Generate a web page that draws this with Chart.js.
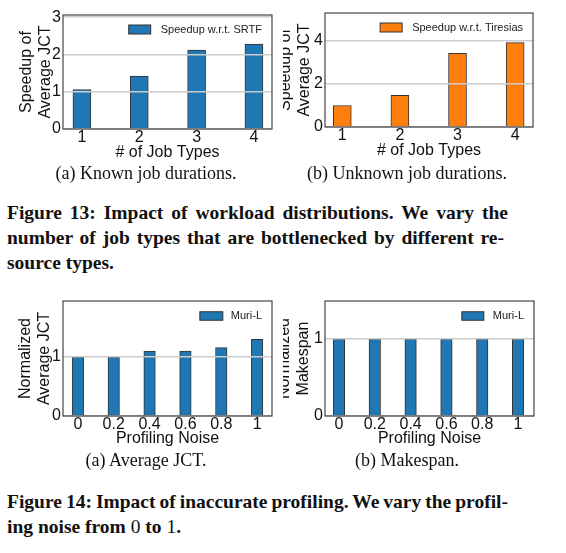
<!DOCTYPE html>
<html>
<head>
<meta charset="utf-8">
<script src="https://cdn.jsdelivr.net/npm/chart.js@4.4.1/dist/chart.umd.min.js"></script>
<style>
  html, body { margin: 0; padding: 0; background: #fff; }
  #page { position: relative; width: 566px; height: 553px; overflow: hidden; }
  canvas { position: absolute; }
  .sub { position: absolute; width: 240px; text-align: center; font: 18px/20px "Liberation Serif", serif; color: #111; white-space: nowrap; }
  .cap { position: absolute; left: 7px; font: bold 19.5px/25px "Liberation Serif", serif; color: #111; }
  .cap div { white-space: nowrap; }
  .cap .j { text-align: justify; text-align-last: justify; white-space: normal; word-spacing: -2.5px; }
  .m { font-weight: normal; }
</style>
</head>
<body>
<div id="page">
  <canvas id="c-srtf" width="283" height="165" style="left:0;top:0"></canvas>
  <canvas id="c-tiresias" width="283" height="163" style="left:283px;top:0"></canvas>
  <canvas id="c-jct" width="283" height="164" style="left:0;top:287px"></canvas>
  <canvas id="c-makespan" width="283" height="164" style="left:283px;top:287px"></canvas>

  <div class="sub" style="left:26px;top:163px">(a) Known job durations.</div>
  <div class="sub" style="left:287px;top:163px">(b) Unknown job durations.</div>
  <div class="sub" style="left:26px;top:450px">(a) Average JCT.</div>
  <div class="sub" style="left:287px;top:450px">(b) Makespan.</div>

  <div class="cap" style="top:199.5px">
    <div class="j" style="width:501px">Figure 13: Impact of workload distributions. We vary the</div>
    <div class="j" style="width:497px">number of job types that are bottlenecked by different re-</div>
    <div>source types.</div>
  </div>
  <div class="cap" style="top:489px">
    <div class="j" style="width:501px">Figure 14: Impact of inaccurate profiling. We vary the profil-</div>
    <div>ing noise from <span class="m">0</span> to <span class="m">1</span>.</div>
  </div>
</div>
<script>
const jobTypes = [1, 2, 3, 4];
const jobTypeLabels = ["1", "2", "3", "4"];
const speedupSrtf = [1.06, 1.42, 2.12, 2.28];
const speedupTiresias = [1.0, 1.47, 3.42, 3.92];
const noiseLevels = [0, 0.2, 0.4, 0.6, 0.8, 1];
const noiseLabels = ["0", "0.2", "0.4", "0.6", "0.8", "1"];
const normJct = [1.0, 1.0, 1.1, 1.1, 1.16, 1.3];
const normMakespan = [1.0, 1.0, 1.0, 1.0, 1.0, 1.0];
const srtfTicks = [0, 1, 2, 3];
const tiresiasTicks = [0, 2, 4];
const normTicks = [0, 1];

const BLUE = "#1f77b4";
const ORANGE = "#ff7f0e";
const EDGE = "#333";
const FRAME = "#444";
const GRID = "#cccccc";
const INK = "#111";
const SANS = "'Liberation Sans', Arial, sans-serif";

// box around the whole plot area, like a matplotlib axes frame
const framePlugin = {
  id: "frame",
  afterDraw(chart) {
    const { ctx, chartArea: a } = chart;
    ctx.save();
    ctx.strokeStyle = FRAME;
    ctx.lineWidth = 1.2;
    ctx.strokeRect(a.left, a.top, a.right - a.left, a.bottom - a.top);
    ctx.restore();
  },
};

// legend drawn inside the plot, top right
const insetLegend = {
  id: "insetLegend",
  afterDraw(chart, args, opts) {
    const ds = chart.data.datasets[0];
    const { ctx, chartArea: a } = chart;
    ctx.save();
    ctx.font = "11px " + SANS;
    const tw = ctx.measureText(ds.label).width;
    const tx = a.right - opts.padRight - tw;
    const cy = a.top + opts.offsetY;
    const bx = tx - opts.gap - opts.boxW;
    ctx.fillStyle = ds.backgroundColor;
    ctx.fillRect(bx, cy - opts.boxH / 2, opts.boxW, opts.boxH);
    ctx.strokeStyle = EDGE;
    ctx.lineWidth = 1;
    ctx.strokeRect(bx, cy - opts.boxH / 2, opts.boxW, opts.boxH);
    ctx.fillStyle = "#222";
    ctx.textBaseline = "middle";
    ctx.fillText(ds.label, tx, cy);
    ctx.restore();
  },
};

function makeChart(id, c) {
  const tickFont = { family: SANS, size: 16, lineHeight: 1 };
  const titleFont = { family: SANS, size: 16, lineHeight: 1.19 };
  return new Chart(document.getElementById(id), {
    type: "bar",
    data: {
      datasets: [{
        label: c.label,
        data: c.xs.map((x, i) => ({ x, y: c.ys[i] })),
        backgroundColor: c.color,
        borderColor: EDGE,
        borderWidth: 1,
        barThickness: c.barPx,
      }],
    },
    options: {
      responsive: false,
      animation: false,
      layout: { padding: { left: 0, top: c.padTop, right: c.padRight, bottom: 0 } },
      scales: {
        x: {
          type: "linear",
          offset: false,
          min: c.xMin,
          max: c.xMax,
          afterBuildTicks: (s) => { s.ticks = c.xs.map((v) => ({ value: v })); },
          afterFit: (s) => { s.height = c.xHeight; },
          grid: { display: false, drawTicks: false, offset: false },
          border: { display: false },
          ticks: {
            autoSkip: false, maxRotation: 0, padding: 1, color: INK, font: tickFont,
            callback: (v, i) => c.xLabels[i],
          },
          title: { display: true, text: c.xTitle, color: INK, font: titleFont, padding: { top: 0, bottom: 2.5 } },
        },
        y: {
          min: 0,
          max: c.yMax,
          afterBuildTicks: (s) => { s.ticks = c.yTicks.map((v) => ({ value: v })); },
          afterFit: (s) => { s.width = c.yWidth; },
          grid: { color: GRID, lineWidth: 1.5, drawTicks: false, z: 1 },
          border: { display: false },
          ticks: { padding: 2, color: INK, font: tickFont, callback: (v) => String(v) },
          title: { display: true, text: c.yTitle, color: INK, font: titleFont, padding: { top: c.yTitlePad, bottom: 0 } },
        },
      },
      plugins: {
        legend: { display: false },
        tooltip: { enabled: false },
        insetLegend: c.legend,
      },
    },
    plugins: [framePlugin, insetLegend],
  });
}

makeChart("c-srtf", {
  label: "Speedup w.r.t. SRTF", color: BLUE,
  xs: jobTypes, ys: speedupSrtf, xLabels: jobTypeLabels,
  xMin: 0.67, xMax: 4.315, yMax: 3.06, yTicks: srtfTicks, barPx: 18,
  xTitle: "# of Job Types", yTitle: ["Speedup of", "Average JCT"], yTitlePad: 17,
  padTop: 15, padRight: 11, yWidth: 63, xHeight: 36,
  legend: { boxW: 22, boxH: 9, gap: 10, padRight: 10, offsetY: 14.5 },
});

makeChart("c-tiresias", {
  label: "Speedup w.r.t. Tiresias", color: ORANGE,
  xs: jobTypes, ys: speedupTiresias, xLabels: jobTypeLabels,
  xMin: 0.7, xMax: 4.31, yMax: 5.3, yTicks: tiresiasTicks, barPx: 18,
  xTitle: "# of Job Types", yTitle: ["Speedup of", "Average JCT"], yTitlePad: -6.5,
  padTop: 13, padRight: 33, yWidth: 42, xHeight: 36,
  legend: { boxW: 22, boxH: 9, gap: 10, padRight: 10, offsetY: 14.5 },
});

makeChart("c-jct", {
  label: "Muri-L", color: BLUE,
  xs: noiseLevels, ys: normJct, xLabels: noiseLabels,
  xMin: -0.083, xMax: 1.083, yMax: 1.95, yTicks: normTicks, barPx: 11.5,
  xTitle: "Profiling Noise", yTitle: ["Normalized", "Average JCT"], yTitlePad: 16.5,
  padTop: 14, padRight: 11, yWidth: 63, xHeight: 35,
  legend: { boxW: 23, boxH: 8.5, gap: 8, padRight: 10, offsetY: 15 },
});

makeChart("c-makespan", {
  label: "Muri-L", color: BLUE,
  xs: noiseLevels, ys: normMakespan, xLabels: noiseLabels,
  xMin: -0.078, xMax: 1.089, yMax: 1.49, yTicks: normTicks, barPx: 11.5,
  xTitle: "Profiling Noise", yTitle: ["Normalized", "Makespan"], yTitlePad: -7.5,
  padTop: 14, padRight: 32, yWidth: 42, xHeight: 35,
  legend: { boxW: 22, boxH: 8.5, gap: 9, padRight: 10, offsetY: 15 },
});
</script>
</body>
</html>
